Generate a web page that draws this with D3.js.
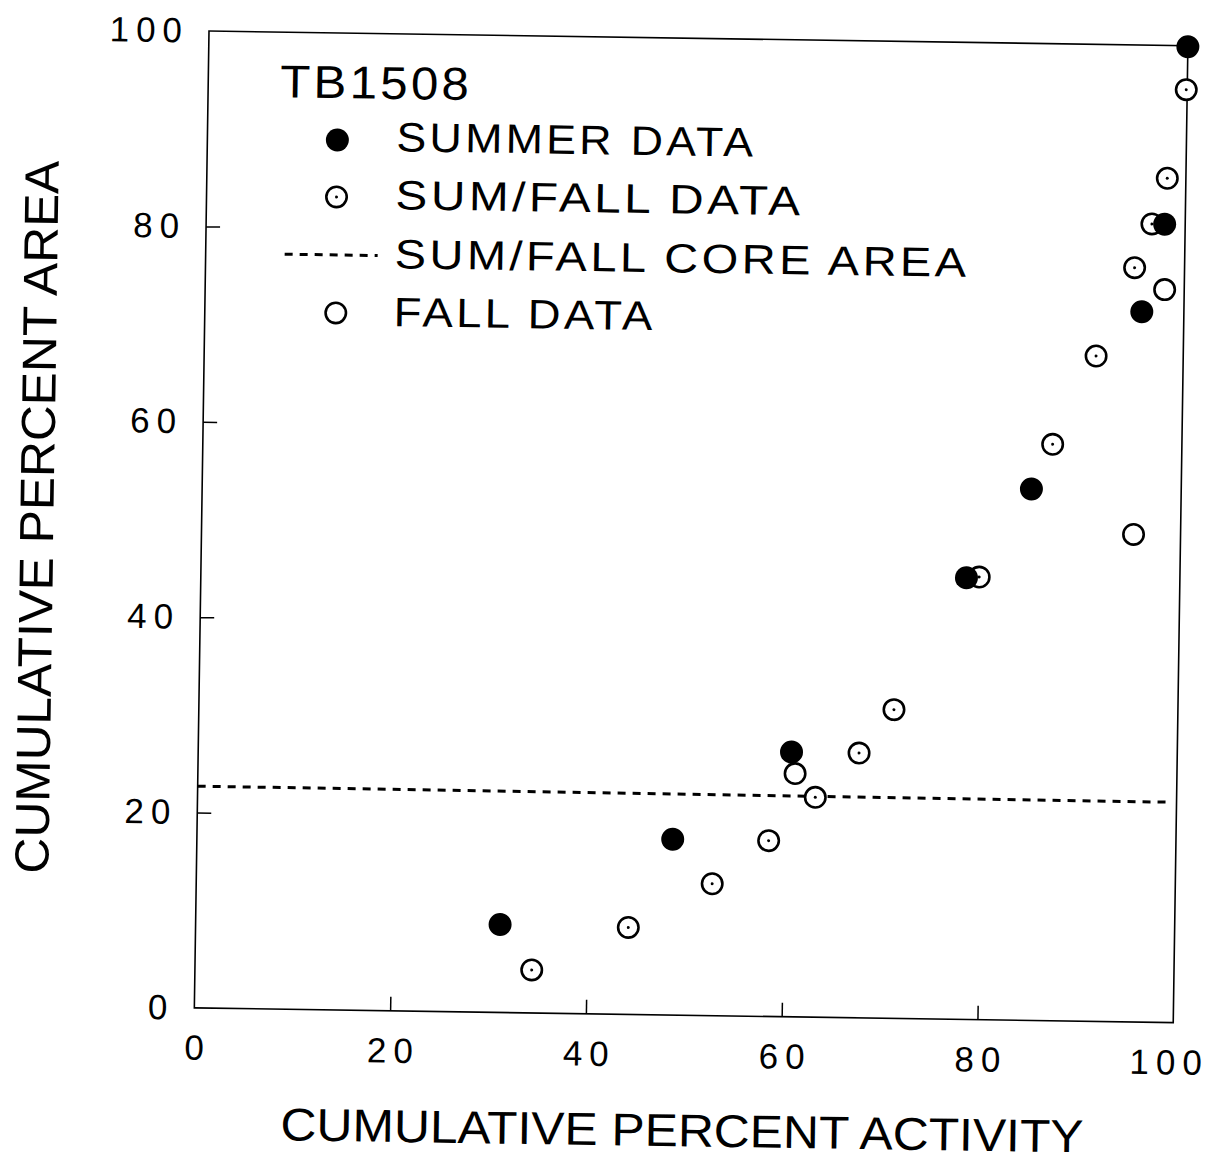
<!DOCTYPE html>
<html>
<head>
<meta charset="utf-8">
<script src="https://cdn.jsdelivr.net/npm/d3@7"></script>
<style>
  html, body { margin: 0; padding: 0; background: #fff; }
  svg { display: block; }
  text { font-family: "Liberation Sans", Arial, Helvetica, sans-serif; fill: #000; }
</style>
</head>
<body>
<svg id="chart" width="1216" height="1161"></svg>
<script>
// ---- data ----
const summerX  = [31.1, 48.6, 60.6, 78.2, 84.7, 95.7, 97.9, 100.0];
const summerY  = [ 9.0, 18.0, 27.1, 45.2, 54.4, 72.7, 81.7,  99.9];

const sumFallX = [34.4, 44.2, 52.7, 58.4, 63.1, 67.5, 71.0, 79.5, 86.8, 91.1, 94.9, 96.6, 98.1, 99.9];
const sumFallY = [ 4.4,  8.9, 13.5, 18.0, 22.5, 27.1, 31.6, 45.3, 59.0, 68.1, 77.2, 81.7, 86.4, 95.5];

const fallX    = [61.0, 95.2, 98.0];
const fallY    = [24.9, 49.9, 75.0];

const coreX    = [0, 99.3];
const coreY    = [22.7, 22.55];

const xTicks   = [0, 20, 40, 60, 80, 100];
const yTicks   = [0, 20, 40, 60, 80, 100];

const plotTitle   = "TB1508";
const legendLabels = ["SUMMER DATA", "SUM/FALL DATA", "SUM/FALL CORE AREA", "FALL DATA"];
const xTitle = "CUMULATIVE PERCENT ACTIVITY";
const yTitle = "CUMULATIVE PERCENT AREA";

// ---- layout ----
const PW = 979, PH = 977;            // plot frame size
const ORIGIN = [209, 31];            // top-left corner of frame
const TILT = 0.86;                   // the scanned page is slightly rotated (deg)

const svg = d3.select("#chart");
svg.append("rect").attr("width", 1216).attr("height", 1161).attr("fill", "#fff");

const g = svg.append("g")
  .attr("transform", `translate(${ORIGIN[0]},${ORIGIN[1]}) rotate(${TILT})`);

const x = d3.scaleLinear().domain([0, 100]).range([0, PW]);
const y = d3.scaleLinear().domain([0, 100]).range([PH, 0]);

// frame
g.append("rect")
  .attr("x", 0).attr("y", 0).attr("width", PW).attr("height", PH)
  .attr("fill", "none").attr("stroke", "#000").attr("stroke-width", 1.6);

const tickFont = 35, tickLS = 7;

// x axis
const xAxis = g.append("g")
  .attr("transform", `translate(0,${PH})`)
  .call(d3.axisBottom(x).tickValues(xTicks).tickFormat(d3.format("d"))
        .tickSizeInner(-14).tickSizeOuter(0).tickPadding(27));
xAxis.select(".domain").remove();
xAxis.selectAll(".tick line").attr("stroke", "#000").attr("stroke-width", 1.5)
  .filter(d => d === 0 || d === 100).remove();
xAxis.selectAll(".tick text")
  .style("font-family", '"Liberation Sans", Arial, sans-serif')
  .style("font-size", tickFont + "px")
  .style("letter-spacing", tickLS + "px")
  .attr("dx", d => d === 100 ? -4 : tickLS / 2)
  .attr("fill", "#000");

// y axis
const yAxis = g.append("g")
  .call(d3.axisLeft(y).tickValues(yTicks).tickFormat(d3.format("d"))
        .tickSizeInner(-14).tickSizeOuter(0).tickPadding(20));
yAxis.select(".domain").remove();
yAxis.selectAll(".tick line").attr("stroke", "#000").attr("stroke-width", 1.5)
  .filter(d => d === 0 || d === 100).remove();
yAxis.selectAll(".tick text")
  .style("font-family", '"Liberation Sans", Arial, sans-serif')
  .style("font-size", tickFont + "px")
  .style("letter-spacing", tickLS + "px")
  .attr("fill", "#000");

// axis titles
g.append("text")
  .attr("x", PW / 2).attr("y", PH + 115).attr("dy", "0.35em")
  .attr("text-anchor", "middle")
  .attr("textLength", 803).attr("lengthAdjust", "spacingAndGlyphs")
  .style("font-size", "46px")
  .text(xTitle);

g.append("text")
  .attr("transform", `translate(-165,${PH / 2}) rotate(-90)`)
  .attr("dy", "0.35em")
  .attr("text-anchor", "middle")
  .attr("textLength", 713).attr("lengthAdjust", "spacingAndGlyphs")
  .style("font-size", "48px")
  .text(yTitle);

// core area dashed line
const line = d3.line().x(d => x(d[0])).y(d => y(d[1]));
g.append("path")
  .datum(d3.zip(coreX, coreY))
  .attr("d", line)
  .attr("fill", "none").attr("stroke", "#000")
  .attr("stroke-width", 3).attr("stroke-dasharray", "8,7");

// markers
const R = 11.5;
const sumFallPts = d3.zip(sumFallX, sumFallY);
const sf = g.append("g").selectAll("g").data(sumFallPts).join("g")
  .attr("transform", d => `translate(${x(d[0])},${y(d[1])})`);
sf.append("circle").attr("r", R - 1.3).attr("fill", "#fff").attr("stroke", "#000").attr("stroke-width", 2.6);
sf.append("circle").attr("r", 1.5).attr("fill", "#000");

g.append("g").selectAll("circle").data(d3.zip(summerX, summerY)).join("circle")
  .attr("cx", d => x(d[0])).attr("cy", d => y(d[1]))
  .attr("r", R).attr("fill", "#000");

g.append("g").selectAll("circle").data(d3.zip(fallX, fallY)).join("circle")
  .attr("cx", d => x(d[0])).attr("cy", d => y(d[1]))
  .attr("r", R - 1.3).attr("fill", "#fff").attr("stroke", "#000").attr("stroke-width", 2.6);

// legend
const leg = g.append("g");
leg.append("text")
  .attr("x", 72).attr("y", 49).attr("dy", "0.35em")
  .attr("textLength", 192).attr("lengthAdjust", "spacingAndGlyphs")
  .style("font-size", "46px").style("letter-spacing", "3px")
  .text(plotTitle);

const rowV = [103, 161, 220, 278];
const legWidths = [360, 408, 575, 262];
legendLabels.forEach((lab, i) => {
  leg.append("text")
    .attr("x", 189).attr("y", rowV[i]).attr("dy", "0.35em")
    .attr("textLength", legWidths[i]).attr("lengthAdjust", "spacingAndGlyphs")
    .style("font-size", "41px").style("letter-spacing", "3px")
    .text(lab);
});
// legend symbols
leg.append("circle").attr("cx", 130).attr("cy", rowV[0] + 4).attr("r", R).attr("fill", "#000");
leg.append("circle").attr("cx", 130).attr("cy", rowV[1] + 3).attr("r", R - 1.3)
  .attr("fill", "#fff").attr("stroke", "#000").attr("stroke-width", 2.6);
leg.append("circle").attr("cx", 130).attr("cy", rowV[1] + 3).attr("r", 1.5).attr("fill", "#000");
leg.append("line").attr("x1", 79).attr("x2", 172).attr("y1", rowV[2] + 2).attr("y2", rowV[2] + 2)
  .attr("stroke", "#000").attr("stroke-width", 3).attr("stroke-dasharray", "8,7");
leg.append("circle").attr("cx", 131).attr("cy", rowV[3] + 2).attr("r", R - 1.3)
  .attr("fill", "#fff").attr("stroke", "#000").attr("stroke-width", 2.6);
</script>
</body>
</html>
